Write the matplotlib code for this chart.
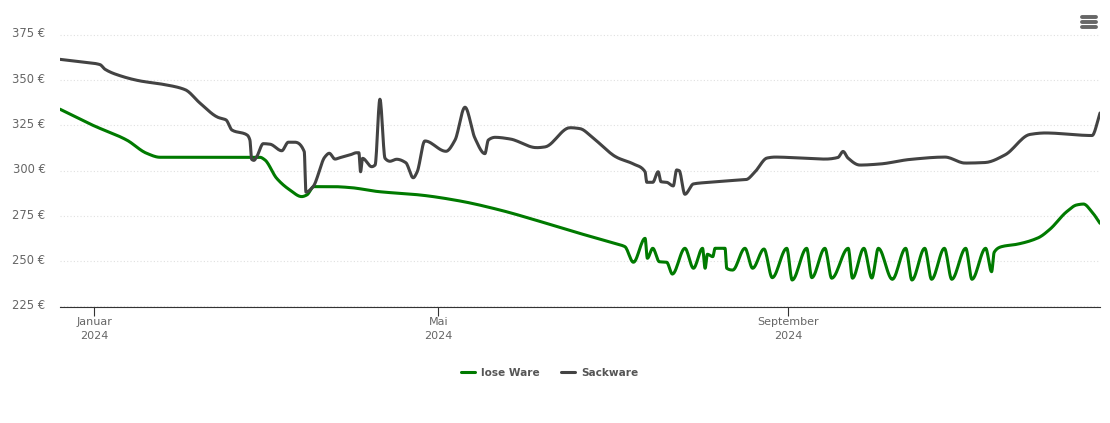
import numpy as np
import matplotlib
matplotlib.use("Agg")
import matplotlib.pyplot as plt
from matplotlib.lines import Line2D
from matplotlib.transforms import ScaledTranslation

# x: days since 1 Jan 2024, y: euro
sack_days = [-11.95,-4.9,2.1,3.9,9.1,16.2,24.3,32.0,37.3,43.6,46.4,48.5,53.8,54.8,55.4,56.2,57.2,59.5,61.9,66.0,68.3,70.6,73.9,74.5,77.0,81.2,82.7,84.7,86.5,90.0,92.3,93.1,93.7,94.4,97.6,98.8,100.5,102.3,104.0,106.4,109.6,112.2,113.6,116.3,123.7,126.9,130.4,133.9,137.4,138.6,141.0,146.2,155.6,158.5,167.3,170.8,175.5,183.7,189.6,193.7,194.3,196.4,198.3,199.3,201.3,203.6,204.8,205.7,207.7,210.7,216.5,227.1,229.2,232.3,236.6,239.4,248.2,257.0,261.5,263.3,265.0,269.2,276.3,286.8,299.1,306.2,313.2,320.2,329.0,334.3,350.8,353.6]
sack_vals = [361.3,360.0,358.4,355.8,352.3,349.4,347.5,344.6,337.1,329.3,327.9,322.3,319.6,316.8,306.2,305.6,307.6,314.8,314.5,310.9,315.6,315.6,310.4,288.1,291.1,307.6,309.5,306.3,307.1,308.6,309.8,309.8,299.3,306.7,302.1,303.0,339.3,306.7,305.1,306.2,304.3,296.0,299.3,316.3,310.6,316.8,334.9,317.8,309.3,316.8,318.3,317.4,312.6,313.0,323.6,323.1,317.8,307.3,303.6,299.3,293.5,293.5,299.3,293.8,293.5,291.5,300.3,299.9,286.9,292.6,293.5,294.8,295.0,299.2,306.9,307.4,306.9,306.3,307.2,310.5,306.9,303.0,303.6,306.1,307.4,304.1,304.4,308.6,319.9,320.7,319.3,331.7]

lose_days = [-11.95,-0.35,11.5,18.5,23.2,58.3,60.1,64.2,68.9,73.0,74.8,77.3,84.0,90.0,99.8,114.6,128.6,142.7,156.8,170.8,177.9,183.1,186.6,189.6,193.7,194.5,196.4,198.7,201.3,203.3,207.7,210.7,213.9,214.8,215.6,217.5,218.3,221.8,222.4,224.5,228.8,231.5,235.5,238.4,243.5,245.4,250.5,252.3,256.9,259.3,265.1,266.6,270.6,273.4,275.7,280.6,285.3,287.5,292.0,294.4,298.9,301.5,306.4,308.6,313.4,315.5,316.4,319.0,324.3,331.9,336.0,341.9,345.4,347.8,350.7,353.6]
lose_vals = [333.8,324.9,316.8,309.5,307.3,307.3,305.8,295.7,289.2,285.6,286.5,291.1,291.1,290.6,288.4,286.5,283.2,278.2,271.9,265.3,262.1,259.7,258.0,249.4,262.6,251.6,257.1,249.7,249.4,242.9,257.1,246.1,257.1,246.1,253.8,252.5,257.1,257.1,246.1,245.1,257.1,246.1,256.7,240.9,257.1,239.6,257.1,240.9,257.1,240.6,257.1,240.6,257.1,240.7,257.1,240.0,257.1,239.6,257.1,240.0,257.1,240.0,257.1,240.0,257.1,244.2,254.9,258.0,259.3,262.9,267.6,277.3,281.0,281.5,277.3,270.9]

y_ticks = [225, 250, 275, 300, 325, 350, 375]
x_ticks = [0, 121, 244]
x_labels = ["Januar\n2024", "Mai\n2024", "September\n2024"]
series_names = ["lose Ware", "Sackware"]


def spline(xs, ys, n=14):
    """Smooth curve through the read points, as the line is rendered in the chart."""
    x = np.asarray(xs, float)
    y = np.asarray(ys, float)
    h = np.diff(x)
    d = np.diff(y) / h
    m = np.zeros_like(x)
    for i in range(1, len(x) - 1):
        if d[i - 1] * d[i] > 0:
            w1 = 2 * h[i] + h[i - 1]
            w2 = h[i] + 2 * h[i - 1]
            m[i] = (w1 + w2) / (w1 / d[i - 1] + w2 / d[i])
    m[0], m[-1] = d[0], d[-1]
    t = np.linspace(0, 1, n, endpoint=False)[:, None]
    h00 = 2*t**3 - 3*t**2 + 1
    h10 = t**3 - 2*t**2 + t
    h01 = -2*t**3 + 3*t**2
    h11 = t**3 - t**2
    yy = h00*y[:-1] + h10*h*m[:-1] + h01*y[1:] + h11*h*m[1:]
    xx = x[:-1] + t*h
    return np.r_[xx.T.ravel(), x[-1]], np.r_[yy.T.ravel(), y[-1]]


W, H = 1110, 423
plt.rcParams["font.family"] = ["DejaVu Sans"]
fig = plt.figure(figsize=(W/100, H/100), dpi=100, facecolor="white")
ax = fig.add_axes([60/W, (H-306.5)/H, 1040/W, 286.5/H])
ax.set_xlim(-11.95, 353.6)
ax.set_ylim(225, 383)
ax.patch.set_alpha(0)
for s in ["top", "right", "left"]:
    ax.spines[s].set_visible(False)
ax.spines["bottom"].set_color("#333333")
ax.spines["bottom"].set_linewidth(0.8)

ax.set_yticks(y_ticks)
ax.set_yticklabels([f"{v} €" for v in y_ticks], fontsize=8.3, color="#666666")
ax.tick_params(axis="y", length=0, pad=10.5)
up = ScaledTranslation(0, 1.5/72, fig.dpi_scale_trans)
for lab in ax.get_yticklabels():
    lab.set_transform(lab.get_transform() + up)
ax.set_xticks(x_ticks)
ax.set_xticklabels(x_labels, fontsize=8, color="#666666", linespacing=1.55)
ax.tick_params(axis="x", length=6.5, width=0.8, color="#333333", pad=1)
ax.grid(axis="y", color="#e0e0e0", linewidth=0.8, linestyle=(0, (1, 2)))
ax.set_axisbelow(True)

gx, gy = spline(lose_days, lose_vals)
sx, sy = spline(sack_days, sack_vals)
ax.plot(gx, gy, color="#007a00", lw=2.2, label=series_names[0], solid_capstyle="round", clip_on=True)
ax.plot(sx, sy, color="#434343", lw=2.2, label=series_names[1], solid_capstyle="round", clip_on=True)

leg = fig.legend(loc="center", bbox_to_anchor=(550/W, (H-373)/H), ncol=2, frameon=False,
                 handlelength=1.33, handletextpad=0.57, columnspacing=2.0,
                 prop={"size": 7.6, "weight": "bold"})
for t in leg.get_texts():
    t.set_color("#555555")

for py in (16.6, 21.6, 26.6):
    fig.add_artist(Line2D([1082/W, 1096/W], [(H-py)/H]*2, transform=fig.transFigure,
                          color="#666666", lw=2.8, solid_capstyle="round"))

fig.savefig("out.png", dpi=100)
